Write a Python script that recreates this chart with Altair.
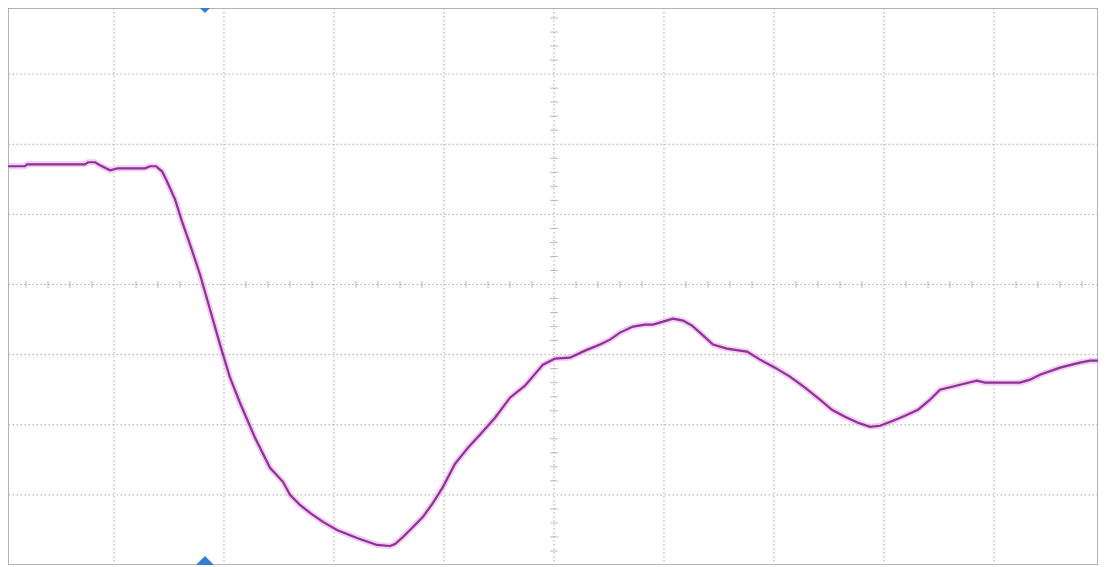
import altair as alt
import pandas as pd

# Trace: time in divisions (0..10), voltage in divisions (-4..4)
t_div = [0, 0.191, 0.209, 0.736, 0.764, 0.827, 0.873, 0.964, 1.036, 1.282, 1.327, 1.382,
         1.436, 1.473, 1.555, 1.618, 1.691, 1.782, 1.873, 1.964, 2.055, 2.145, 2.282, 2.418,
         2.536, 2.6, 2.691, 2.782, 2.9, 3.027, 3.209, 3.391, 3.509, 3.555, 3.627, 3.718,
         3.809, 3.9, 3.991, 4.1, 4.218, 4.327, 4.464, 4.6, 4.736, 4.9, 5.009, 5.145, 5.282,
         5.418, 5.509, 5.6, 5.718, 5.827, 5.9, 5.991, 6.082, 6.173, 6.255, 6.327, 6.445,
         6.573, 6.691, 6.755, 6.873, 7.009, 7.145, 7.282, 7.418, 7.527, 7.645, 7.764, 7.873,
         7.964, 8.082, 8.191, 8.309, 8.418, 8.509, 8.691, 8.845, 8.918, 9.055, 9.236, 9.327,
         9.418, 9.6, 9.782, 9.873, 10]
v_div = [1.686, 1.686, 1.714, 1.714, 1.743, 1.743, 1.7, 1.629, 1.657, 1.657, 1.686, 1.686,
         1.614, 1.5, 1.214, 0.9, 0.571, 0.143, -0.357, -0.857, -1.329, -1.686, -2.186, -2.614,
         -2.814, -3.0, -3.143, -3.257, -3.386, -3.5, -3.614, -3.714, -3.729, -3.7, -3.6, -3.457,
         -3.314, -3.114, -2.886, -2.557, -2.329, -2.143, -1.9, -1.614, -1.443, -1.143, -1.057,
         -1.043, -0.943, -0.857, -0.786, -0.686, -0.6, -0.571, -0.571, -0.529, -0.486, -0.514,
         -0.586, -0.686, -0.857, -0.914, -0.943, -0.957, -1.071, -1.186, -1.314, -1.471, -1.643,
         -1.786, -1.886, -1.971, -2.029, -2.014, -1.943, -1.871, -1.786, -1.643, -1.5, -1.429,
         -1.371, -1.4, -1.4, -1.4, -1.357, -1.286, -1.186, -1.114, -1.086, -1.086]

grid_x = [1, 2, 3, 4, 5, 6, 7, 8, 9]
grid_y = [-3, -2, -1, 0, 1, 2, 3]
minor_x = [round(i * 0.2, 1) for i in range(1, 50) if i % 5 != 0]
minor_y = [round(-4 + i * 0.2, 1) for i in range(1, 40) if i % 5 != 0]
trigger_t = [1.827, 1.827]
trigger_v = [4, -4]

# visible window of the screen (page margin crops the outer 4px of the graticule)
X = alt.Scale(domain=[0.0364, 9.9455], nice=False, zero=False)
Y = alt.Scale(domain=[-4, 3.943], nice=False, zero=False)

trace = pd.DataFrame({"t": t_div, "v": v_div})
gx = pd.DataFrame({"x": grid_x})
gy = pd.DataFrame({"y": grid_y})
mx = pd.DataFrame({"x": minor_x, "y": [0] * len(minor_x)})
my = pd.DataFrame({"y": minor_y, "x": [5] * len(minor_y)})
trig = pd.DataFrame({"t": trigger_t, "v": trigger_v})

grid_color = "#a8a8a8"
dash = [1.5, 2.5]

vlines = alt.Chart(gx).mark_rule(color=grid_color, strokeDash=dash, strokeWidth=1).encode(
    x=alt.X("x:Q", scale=X, axis=None))
hlines = alt.Chart(gy).mark_rule(color=grid_color, strokeDash=dash, strokeWidth=1).encode(
    y=alt.Y("y:Q", scale=Y, axis=None))
ticks_h = alt.Chart(mx).mark_tick(color="#a0a0a0", orient="vertical", size=7, thickness=1).encode(
    x=alt.X("x:Q", scale=X, axis=None), y=alt.Y("y:Q", scale=Y, axis=None))
ticks_v = alt.Chart(my).mark_tick(color="#a0a0a0", orient="horizontal", size=8, thickness=1).encode(
    x=alt.X("x:Q", scale=X, axis=None), y=alt.Y("y:Q", scale=Y, axis=None))

glow = alt.Chart(trace).mark_line(color="#f0a8f0", strokeWidth=6, opacity=0.6, clip=True).encode(
    x=alt.X("t:Q", scale=X, axis=None), y=alt.Y("v:Q", scale=Y, axis=None))
line = alt.Chart(trace).mark_line(color="#8a3592", strokeWidth=2.2, clip=True).encode(
    x=alt.X("t:Q", scale=X, axis=None), y=alt.Y("v:Q", scale=Y, axis=None))

markers = alt.Chart(trig).mark_point(shape="diamond", filled=True, size=330, color="#2f7fd6",
                                     opacity=1, clip=True).encode(
    x=alt.X("t:Q", scale=X, axis=None), y=alt.Y("v:Q", scale=Y, axis=None))

chart = alt.layer(vlines, hlines, ticks_h, ticks_v, glow, line, markers).properties(
    width=1090, height=557,
    autosize=alt.AutoSizeParams(type="none"),
    padding=0,
    background="white",
).configure_view(stroke="#9c9c9c", strokeWidth=1.5)

chart.save("out.html", embed_options={"renderer": "svg", "actions": False})
